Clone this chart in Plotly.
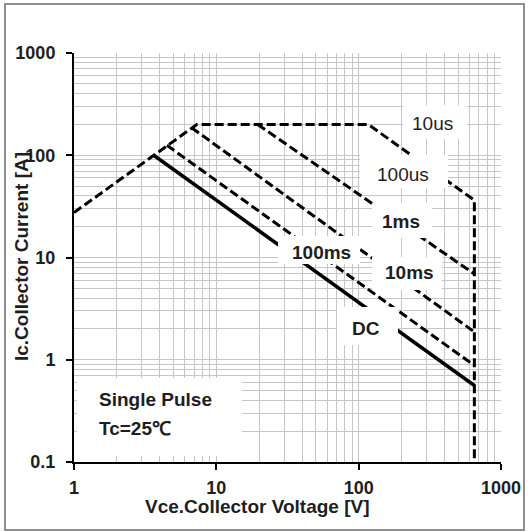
import plotly.graph_objects as go

# ---------------- data ----------------
# Safe operating area curves: collector voltage [V] vs collector current [A]
v_10us = [1, 7.3, 117, 650, 650]
i_10us = [27.5, 200, 200, 36.3, 0.1]

v_100us = [19.5, 650]
i_100us = [200, 6.9]

v_1ms = [6.7, 650]
i_1ms = [186, 1.87]

v_10ms = [4.5, 650]
i_10ms = [125, 0.88]

v_dc = [3.63, 650]
i_dc = [100, 0.56]

x_tickvals = [1, 10, 100, 1000]
x_ticktext = ["1", "10", "100", "1000"]
y_tickvals = [0.1, 1, 10, 100, 1000]
y_ticktext = ["0.1", "1", "10", "100", "1000"]

x_minor = [d * m for d in [1, 10, 100] for m in range(2, 10)]
y_minor = [d * m for d in [0.1, 1, 10, 100] for m in range(2, 10)]

# ---------------- layout helpers ----------------
W, H = 531, 532
ML, MR, MT, MB = 74, 30, 53, 70
PW = W - ML - MR
PH = H - MT - MB


def px_x(px):
    """page pixel -> paper x"""
    return (px - ML) / PW


def px_y(py):
    """page pixel -> paper y"""
    return (H - MB - py) / PH


FONT = "Liberation Sans, Arial, sans-serif"
TXT = "#1e1e1e"
DASH = "9px,4px"
FS = 19

fig = go.Figure()

for vx, iy, dash, w in [
    (v_10us, i_10us, DASH, 3),
    (v_100us, i_100us, DASH, 3),
    (v_1ms, i_1ms, DASH, 3),
    (v_10ms, i_10ms, DASH, 3),
    (v_dc, i_dc, "solid", 3.5),
]:
    fig.add_trace(go.Scatter(x=vx, y=iy, mode="lines",
                             line=dict(color="black", width=w, dash=dash),
                             showlegend=False, hoverinfo="skip"))

grid_c = "#c6c6c6"
axis_common = dict(
    type="log", showline=True, linecolor="black", linewidth=2,
    ticks="outside", ticklen=6, tickwidth=2, tickcolor="black",
    showgrid=True, gridcolor=grid_c, gridwidth=1.2, zeroline=False,
    automargin=False,
    tickfont=dict(family=FONT, size=18, color=TXT, weight="bold"),
)

fig.update_xaxes(range=[0, 3], tickmode="array", tickvals=x_tickvals, ticktext=x_ticktext,
                 minor=dict(tickvals=x_minor, showgrid=True, gridcolor=grid_c, gridwidth=1.2, ticks=""),
                 ticklabelstandoff=2, **axis_common)
fig.update_yaxes(range=[-1, 3], tickmode="array", tickvals=y_tickvals, ticktext=y_ticktext,
                 minor=dict(tickvals=y_minor, showgrid=True, gridcolor=grid_c, gridwidth=1.2, ticks=""),
                 ticklabelstandoff=7, **axis_common)

shapes = []
# outer border of the picture
shapes.append(dict(type="rect", xref="paper", yref="paper",
                   x0=px_x(5), x1=px_x(524), y0=px_y(530), y1=px_y(4),
                   line=dict(color="#8f8f8f", width=2), fillcolor="rgba(0,0,0,0)", layer="below"))

# white label boxes (x0, y0, x1, y1 in page pixels)
boxes = [
    (403, 105, 467, 139),
    (360, 155, 448, 188),
    (372, 203, 432, 238),
    (278, 236, 360, 264),
    (372, 257, 442, 290),
    (337, 307, 398, 345),
    (77, 378, 242, 456),
]
for x0, y0, x1, y1 in boxes:
    shapes.append(dict(type="rect", xref="paper", yref="paper",
                       x0=px_x(x0), x1=px_x(x1), y0=px_y(y1), y1=px_y(y0),
                       line=dict(width=0), fillcolor="white", layer="above"))

annotations = []
labels = [
    ("10us", 432, 124, "normal"),
    ("100us", 402.5, 174.5, "normal"),
    ("1ms", 401, 222, "bold"),
    ("100ms", 321.5, 252.5, "bold"),
    ("10ms", 409.5, 272.5, "bold"),
    ("DC", 365.5, 328.5, "bold"),
]
for t, cx, cy, wt in labels:
    annotations.append(dict(text=t, xref="paper", yref="paper", x=px_x(cx), y=px_y(cy),
                            xanchor="center", yanchor="middle", showarrow=False,
                            font=dict(family=FONT, size=FS, color=TXT, weight=wt)))

annotations.append(dict(text="Single Pulse", xref="paper", yref="paper", x=px_x(97), y=px_y(399),
                        xanchor="left", yanchor="middle", showarrow=False,
                        font=dict(family=FONT, size=FS, color=TXT, weight="bold")))
annotations.append(dict(text="Tc=25℃", xref="paper", yref="paper", x=px_x(97), y=px_y(428.5),
                        xanchor="left", yanchor="middle", showarrow=False,
                        font=dict(family=FONT, size=FS, color=TXT, weight="bold")))

# axis titles
annotations.append(dict(text="Vce.Collector Voltage [V]", xref="paper", yref="paper",
                        x=px_x(257), y=px_y(507), xanchor="center", yanchor="middle", showarrow=False,
                        font=dict(family=FONT, size=FS, color=TXT, weight="bold")))
annotations.append(dict(text="Ic.Collector Current [A]", xref="paper", yref="paper",
                        x=px_x(21), y=px_y(257), xanchor="center", yanchor="middle", showarrow=False,
                        textangle=-90,
                        font=dict(family=FONT, size=FS, color=TXT, weight="bold")))

fig.update_layout(
    width=W, height=H,
    margin=dict(l=ML, r=MR, t=MT, b=MB, autoexpand=False),
    paper_bgcolor="white", plot_bgcolor="white",
    shapes=shapes, annotations=annotations,
    showlegend=False,
)

fig.write_html("out.html", config={"displayModeBar": False},
               post_script="document.body.style.margin='0';")
